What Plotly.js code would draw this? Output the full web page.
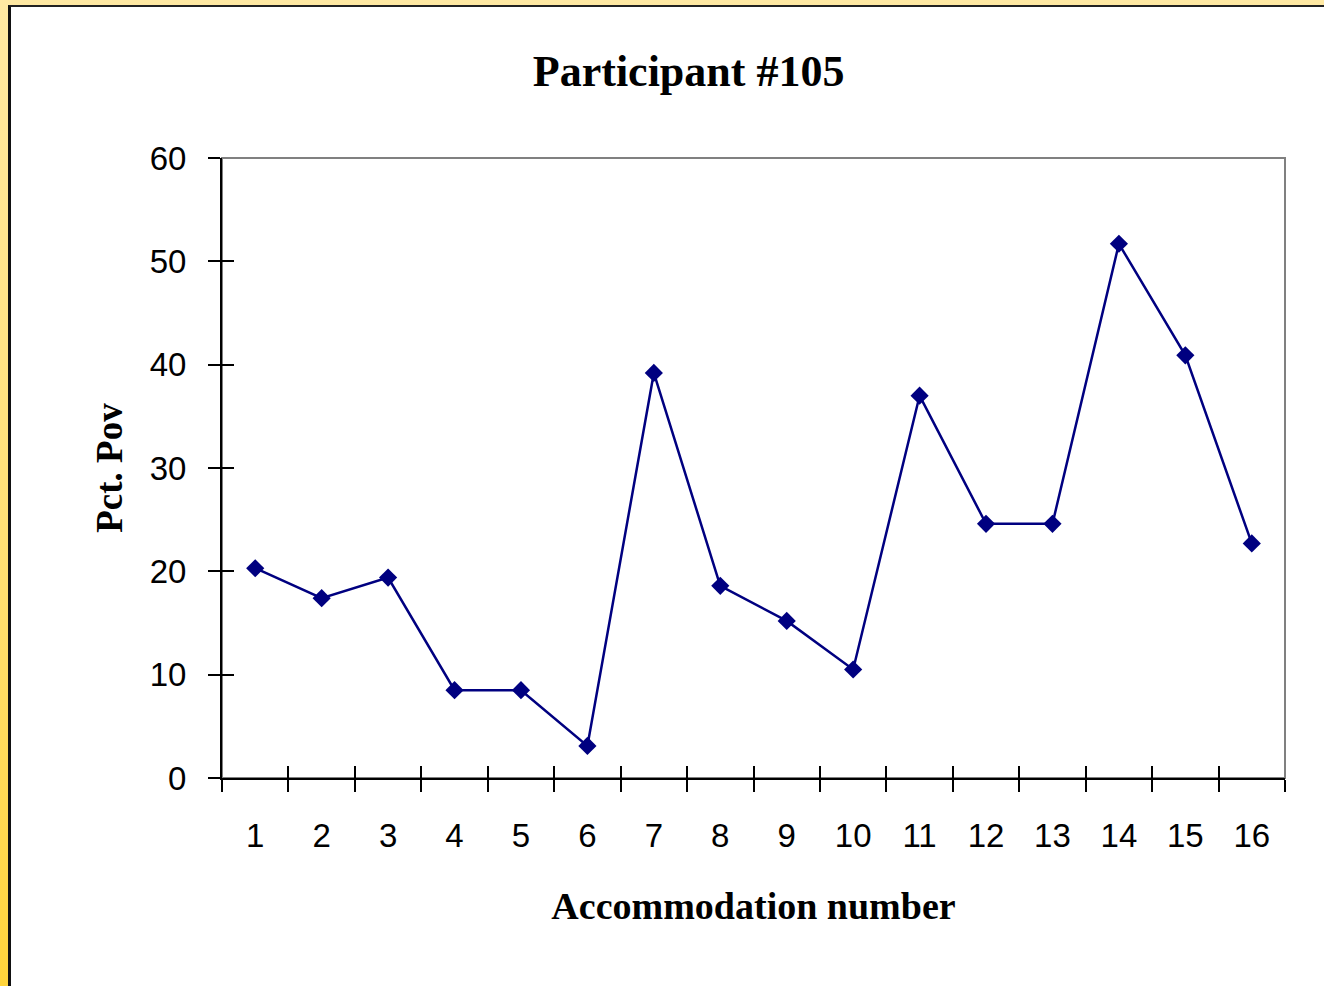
<!DOCTYPE html>
<html>
<head>
<meta charset="utf-8">
<script src="https://cdn.plot.ly/plotly-3.0.1.min.js"></script>
<style>
  html, body { margin: 0; padding: 0; width: 1324px; height: 986px; overflow: hidden;
    background: linear-gradient(180deg, #FFE9A3 0%, #FFDF70 60%, #FFD43B 100%); }
  #frame { position: absolute; left: 8px; top: 5px; width: 1316px; height: 981px;
    border-left: 3px solid #111; border-top: 2px solid #222; background: #fff; }
  #chart { width: 1313px; height: 979px; }
</style>
</head>
<body>
<div id="frame"><div id="chart"></div></div>
<script>
const categories = ["1","2","3","4","5","6","7","8","9","10","11","12","13","14","15","16"];
const pctPov = [20.3, 17.4, 19.4, 8.5, 8.5, 3.1, 39.2, 18.6, 15.2, 10.5, 37.0, 24.6, 24.6, 51.7, 40.9, 22.7];
const yTickVals = [0, 10, 20, 30, 40, 50, 60];
const chartTitle = "Participant #105";
const xTitle = "Accommodation number";
const yTitle = "Pct. Pov";

const navy = "#000080";

// invisible helper on a twin subplot that only carries the inner half of the crossing ticks
const tickHelper = {
  x: categories, y: pctPov, xaxis: "x2", yaxis: "y2", type: "scatter", mode: "markers",
  marker: { opacity: 0, size: 1 }, hoverinfo: "skip", showlegend: false
};

const trace = {
  x: categories, y: pctPov, type: "scatter", mode: "lines+markers",
  line: { color: navy, width: 2.5 },
  marker: { symbol: "diamond", size: 14, color: navy },
  hoverinfo: "x+y", showlegend: false, cliponaxis: false
};

const tickFont = { family: "Liberation Sans, Arial, sans-serif", size: 33, color: "#000" };
const titleFont = { family: "Liberation Serif, Times New Roman, serif", color: "#000" };

const layout = {
  width: 1313, height: 979,
  margin: { l: 211, r: 39, t: 151, b: 208 },
  paper_bgcolor: "#fff", plot_bgcolor: "rgba(0,0,0,0)",
  showlegend: false,
  title: { text: "<b>" + chartTitle + "</b>", font: Object.assign({ size: 44 }, titleFont),
           x: 0.439, xref: "paper", xanchor: "center", y: 0.935, yref: "container", yanchor: "middle" },
  xaxis: {
    type: "category", categoryarray: categories, range: [-0.5, 15.5], domain: [0, 1],
    tickson: "boundaries", ticks: "outside", ticklen: 12, tickwidth: 2, tickcolor: "#000",
    showline: true, linecolor: "#000", linewidth: 2, showgrid: false, zeroline: false,
    tickfont: tickFont, ticklabelstandoff: 27,
    title: { text: "<b>" + xTitle + "</b>", font: Object.assign({ size: 38 }, titleFont), standoff: 40 }
  },
  yaxis: {
    range: [0, 60], tickvals: yTickVals, domain: [0, 1], ticks: "outside", ticklen: 12, tickwidth: 2, tickcolor: "#000",
    showline: true, linecolor: "#000", linewidth: 2, showgrid: false, zeroline: false,
    tickfont: tickFont, ticklabelstandoff: 15,
    title: { text: "<b>" + yTitle + "</b>", font: Object.assign({ size: 37 }, titleFont), standoff: 16 }
  },
  xaxis2: {
    anchor: "y2", domain: [0, 1], side: "bottom", type: "category", categoryarray: categories,
    range: [-0.5, 15.5], tickson: "boundaries",
    ticks: "inside", ticklen: 12, tickwidth: 2, tickcolor: "#000",
    showticklabels: false, showline: false, showgrid: false, zeroline: false
  },
  yaxis2: {
    anchor: "x2", domain: [0, 1], side: "left", range: [0, 60], tickvals: yTickVals,
    ticks: "inside", ticklen: 12, tickwidth: 2, tickcolor: "#000",
    showticklabels: false, showline: false, showgrid: false, zeroline: false
  },
  shapes: [{
    type: "rect", xref: "paper", yref: "paper", x0: 0, x1: 1, y0: 0, y1: 1,
    line: { color: "#808080", width: 2 }, layer: "below"
  }]
};

Plotly.newPlot("chart", [tickHelper, trace], layout, { displayModeBar: false, staticPlot: true });
</script>
</body>
</html>
